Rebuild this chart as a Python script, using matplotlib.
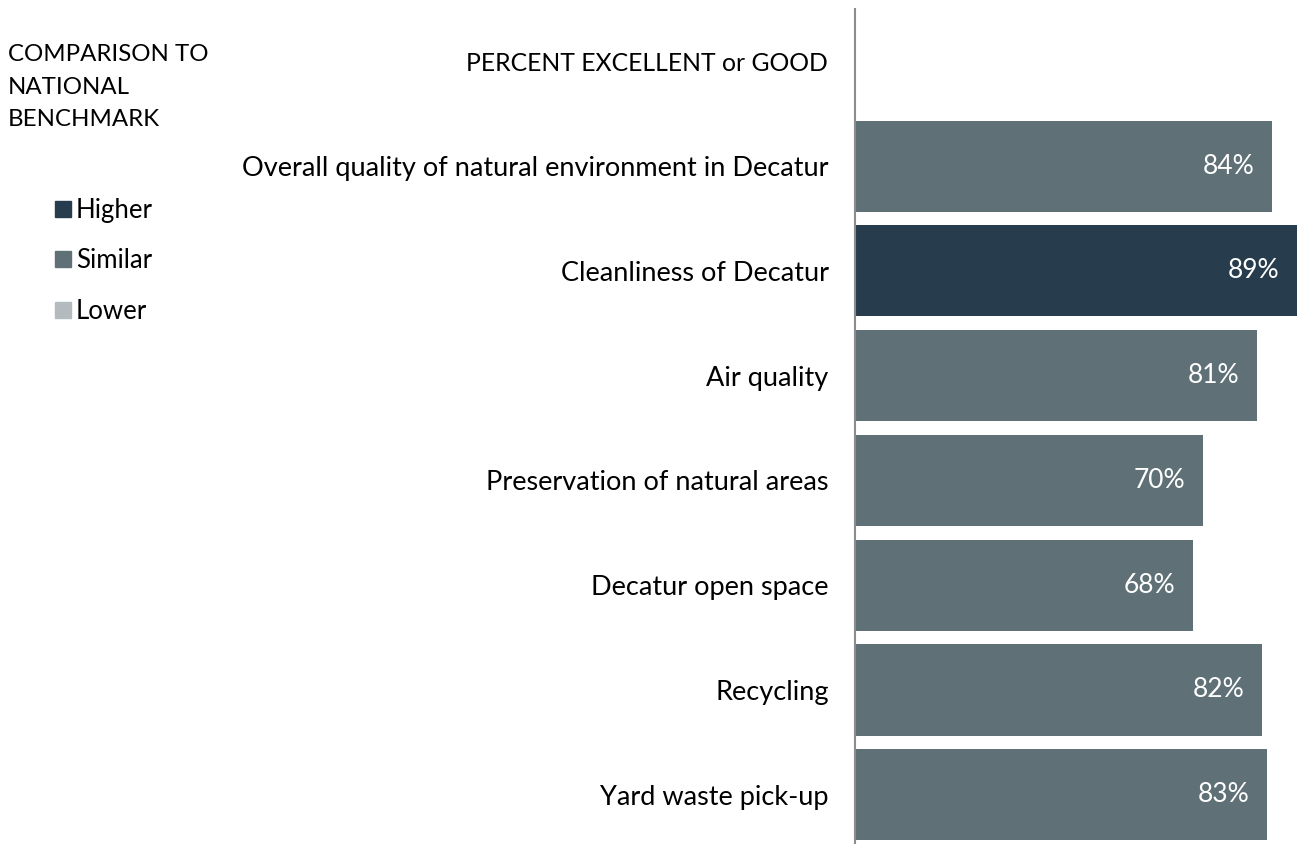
import matplotlib
matplotlib.use("Agg")
import matplotlib.pyplot as plt
from matplotlib.lines import Line2D

# ---- data ----
categories = [
    "Overall quality of natural environment in Decatur",
    "Cleanliness of Decatur",
    "Air quality",
    "Preservation of natural areas",
    "Decatur open space",
    "Recycling",
    "Yard waste pick-up",
]
values = [84, 89, 81, 70, 68, 82, 83]
comparison = ["Similar", "Higher", "Similar", "Similar", "Similar", "Similar", "Similar"]

legend_labels = ["Higher", "Similar", "Lower"]
colors = {"Higher": "#273d4d", "Similar": "#5f7177", "Lower": "#b3bbbe"}

plt.rcParams['font.family'] = ['Lato', 'DejaVu Sans']

W, H = 1299, 844
fig = plt.figure(figsize=(W / 100, H / 100), dpi=100)

# axes spans the bar area (pixel layout converted to figure fraction)
left_px, right_px = 855, 1299
top_px, bot_px = 9, 844
ax = fig.add_axes([left_px / W, 1 - bot_px / H, (right_px - left_px) / W, (bot_px - top_px) / H])

n = len(categories)
ypos = list(range(1, n + 1))  # slot 0 is the header row
bar_colors = [colors[c] for c in comparison]
ax.barh(ypos, values, height=0.87, color=bar_colors)

ax.set_ylim(n + 0.5 - 0.03, -0.5)
ax.set_xlim(0, 89.4)

ax.set_yticks(ypos)
ax.set_yticklabels(categories, fontsize=19.5, color="black")
ax.tick_params(axis="y", length=0, pad=19)
ax.set_xticks([])

for s in ["top", "right", "bottom"]:
    ax.spines[s].set_visible(False)
ax.spines["left"].set_color("#8c8c8c")
ax.spines["left"].set_linewidth(1.5)

for y, v in zip(ypos, values):
    ax.text(v - 3.6, y, f"{v}%", ha="right", va="center", color="white", fontsize=19)

# header above the category labels
ax.text(-27 / 4.966, 0.02, "PERCENT EXCELLENT or GOOD", ha="right", va="center",
        fontsize=17.8, clip_on=False)

# left-hand legend block
fig.text(8 / W, 1 - 44 / H, "COMPARISON TO\nNATIONAL\nBENCHMARK", ha="left", va="top",
         fontsize=17.3, linespacing=1.68)

handles = [Line2D([], [], marker="s", linestyle="none", markersize=12,
                  markerfacecolor=colors[l], markeredgecolor=colors[l]) for l in legend_labels]
fig.legend(handles, legend_labels, loc="upper left", bbox_to_anchor=(45 / W, 1 - 188 / H),
           frameon=False, fontsize=18.5, handlelength=0.6, handletextpad=0.2,
           labelspacing=0.98, borderaxespad=0)

fig.savefig("out.png", dpi=100)
